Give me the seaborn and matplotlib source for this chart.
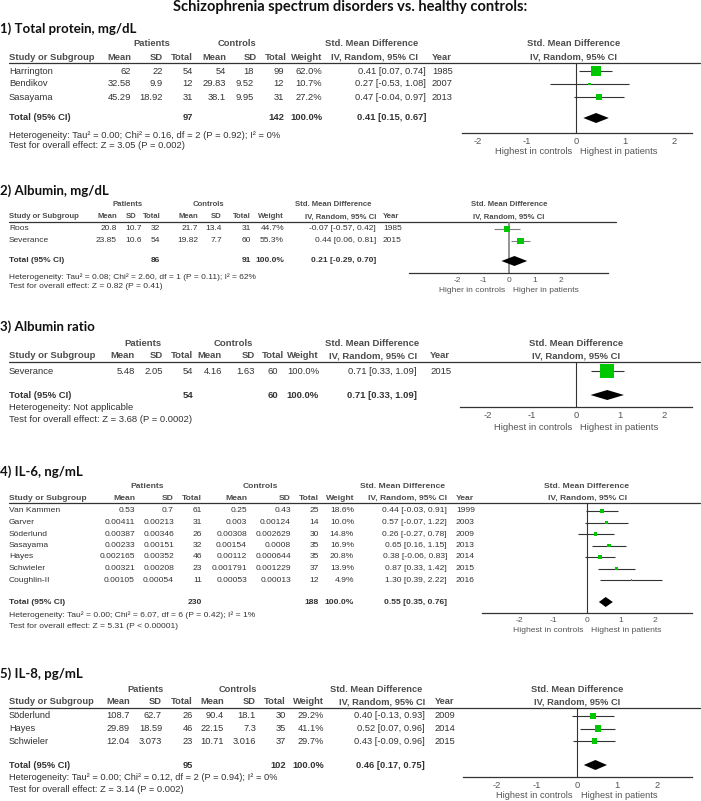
import numpy as np
import pandas as pd
import matplotlib
matplotlib.use("Agg")
import matplotlib.pyplot as plt
import seaborn as sns

# ---------------- data ----------------
TITLE = "Schizophrenia spectrum disorders vs. healthy controls:"
TICKS = [-2, -1, 0, 1, 2]

s1_title = "1) Total protein, mg/dL"
s1_study = ["Harrington", "Bendikov", "Sasayama"]
s1_p_mean = ["62", "32.58", "45.29"]
s1_p_sd = ["22", "9.9", "18.92"]
s1_p_n = [54, 12, 31]
s1_c_mean = ["54", "29.83", "38.1"]
s1_c_sd = ["18", "9.52", "9.95"]
s1_c_n = [99, 12, 31]
s1_weight = [62.0, 10.7, 27.2]
s1_smd = [0.41, 0.27, 0.47]
s1_lo = [0.07, -0.53, -0.04]
s1_hi = [0.74, 1.08, 0.97]
s1_year = [1985, 2007, 2013]
s1_total = [97, 142, 0.41, 0.15, 0.67]
s1_het = "Heterogeneity: Tau² = 0.00; Chi² = 0.16, df = 2 (P = 0.92); I² = 0%"
s1_test = "Test for overall effect: Z = 3.05 (P = 0.002)"
s1_dir = ["Highest in controls", "Highest in patients"]

s2_title = "2) Albumin, mg/dL"
s2_study = ["Roos", "Severance"]
s2_p_mean = ["20.8", "23.85"]
s2_p_sd = ["10.7", "10.6"]
s2_p_n = [32, 54]
s2_c_mean = ["21.7", "19.82"]
s2_c_sd = ["13.4", "7.7"]
s2_c_n = [31, 60]
s2_weight = [44.7, 55.3]
s2_smd = [-0.07, 0.44]
s2_lo = [-0.57, 0.06]
s2_hi = [0.42, 0.81]
s2_year = [1985, 2015]
s2_total = [86, 91, 0.21, -0.29, 0.70]
s2_het = "Heterogeneity: Tau² = 0.08; Chi² = 2.60, df = 1 (P = 0.11); I² = 62%"
s2_test = "Test for overall effect: Z = 0.82 (P = 0.41)"
s2_dir = ["Higher in controls", "Higher in patients"]

s3_title = "3) Albumin ratio"
s3_study = ["Severance"]
s3_p_mean = ["5.48"]
s3_p_sd = ["2.05"]
s3_p_n = [54]
s3_c_mean = ["4.16"]
s3_c_sd = ["1.63"]
s3_c_n = [60]
s3_weight = [100.0]
s3_smd = [0.71]
s3_lo = [0.33]
s3_hi = [1.09]
s3_year = [2015]
s3_total = [54, 60, 0.71, 0.33, 1.09]
s3_het = "Heterogeneity: Not applicable"
s3_test = "Test for overall effect: Z = 3.68 (P = 0.0002)"
s3_dir = ["Highest in controls", "Highest in patients"]

s4_title = "4) IL-6, ng/mL"
s4_study = ["Van Kammen", "Garver", "Söderlund", "Sasayama", "Hayes", "Schwieler", "Coughlin-II"]
s4_p_mean = ["0.53", "0.00411", "0.00387", "0.00233", "0.002165", "0.00321", "0.00105"]
s4_p_sd = ["0.7", "0.00213", "0.00346", "0.00151", "0.00352", "0.00208", "0.00054"]
s4_p_n = [61, 31, 26, 32, 46, 23, 11]
s4_c_mean = ["0.25", "0.003", "0.00308", "0.00154", "0.00112", "0.001791", "0.00053"]
s4_c_sd = ["0.43", "0.00124", "0.002629", "0.0008", "0.000644", "0.001229", "0.00013"]
s4_c_n = [25, 14, 30, 35, 35, 37, 12]
s4_weight = [18.6, 10.0, 14.8, 16.9, 20.8, 13.9, 4.9]
s4_smd = [0.44, 0.57, 0.26, 0.65, 0.38, 0.87, 1.30]
s4_lo = [-0.03, -0.07, -0.27, 0.16, -0.06, 0.33, 0.39]
s4_hi = [0.91, 1.22, 0.78, 1.15, 0.83, 1.42, 2.22]
s4_year = [1999, 2003, 2009, 2013, 2014, 2015, 2016]
s4_total = [230, 188, 0.55, 0.35, 0.76]
s4_het = "Heterogeneity: Tau² = 0.00; Chi² = 6.07, df = 6 (P = 0.42); I² = 1%"
s4_test = "Test for overall effect: Z = 5.31 (P < 0.00001)"
s4_dir = ["Highest in controls", "Highest in patients"]

s5_title = "5) IL-8, pg/mL"
s5_study = ["Söderlund", "Hayes", "Schwieler"]
s5_p_mean = ["108.7", "29.89", "12.04"]
s5_p_sd = ["62.7", "18.59", "3.073"]
s5_p_n = [26, 46, 23]
s5_c_mean = ["90.4", "22.15", "10.71"]
s5_c_sd = ["18.1", "7.3", "3.016"]
s5_c_n = [30, 35, 37]
s5_weight = [29.2, 41.1, 29.7]
s5_smd = [0.40, 0.52, 0.43]
s5_lo = [-0.13, 0.07, -0.09]
s5_hi = [0.93, 0.96, 0.96]
s5_year = [2009, 2014, 2015]
s5_total = [95, 102, 0.46, 0.17, 0.75]
s5_het = "Heterogeneity: Tau² = 0.00; Chi² = 0.12, df = 2 (P = 0.94); I² = 0%"
s5_test = "Test for overall effect: Z = 3.14 (P = 0.002)"
s5_dir = ["Highest in controls", "Highest in patients"]

# ---------------- layout (pixels) ----------------
W, H = 701, 801
sns.set_style("white")
plt.rcParams["font.family"] = ["Liberation Sans", "DejaVu Sans"]

TXT = "#333333"
HDR = "#4d4d4d"
GREEN = "#00c800"

layouts = [
    dict(title_y=29, group_y=44, head_y=57, line_y=63, line_r=700, row0=71, dy=13, total_y=118,
         het_y=135, test_y=146, fs=6.75, hfs=6.75,
         cols=dict(mean=131, sd=163, n=193, cmean=226, csd=254, cn=284, w=322, ci=426, year=432),
         hcols=dict(csd=257, cn=287, ci=418),
         pc=152, cc=237, smdc=372,
         L=462, R=692, zero=576, unit=49, axis_y=133, dir_y=152, hc=574, k=0.45, lc="#333333"),
    dict(title_y=191, group_y=205, head_y=217, line_y=222, line_r=616, row0=229, dy=12, total_y=261,
         het_y=277, test_y=287, fs=6.0, hfs=5.6,
         cols=dict(mean=117, sd=142, n=160, cmean=198, csd=222, cn=251, w=284, ci=376, year=383),
         hcols=dict(sd=137, n=161),
         pc=128, cc=208, smdc=333,
         L=409, R=608, zero=509, unit=26, axis_y=273, dir_y=291, hc=509, k=0.34, lc="#808080"),
    dict(title_y=327, group_y=343, head_y=356, line_y=362, line_r=700, row0=371, dy=12, total_y=395,
         het_y=408, test_y=420, fs=6.8, hfs=6.8,
         cols=dict(mean=135, sd=163, n=193, cmean=222, csd=255, cn=278, w=319, ci=417, year=430),
         hcols=dict(cn=284),
         pc=143, cc=233, smdc=372,
         L=460, R=692, zero=576, unit=44, axis_y=407, dir_y=427, hc=576, k=0.44, lc="#333333"),
    dict(title_y=472, group_y=486, head_y=498, line_y=503, line_r=700, row0=511, dy=11.5, total_y=602,
         het_y=615, test_y=626, fs=6.1, hfs=6.1,
         cols=dict(mean=135, sd=174, n=202, cmean=247, csd=291, cn=319, w=354, ci=447, year=456),
         hcols=dict(),
         pc=147, cc=260, smdc=402,
         L=482, R=692, zero=587, unit=34, axis_y=613, dir_y=631, hc=587, k=0.41, lc="#333333"),
    dict(title_y=674, group_y=690, head_y=702, line_y=708, line_r=700, row0=716, dy=12.5, total_y=765,
         het_y=778, test_y=790, fs=6.7, hfs=6.7,
         cols=dict(mean=130, sd=162, n=193, cmean=224, csd=256, cn=286, w=324, ci=425, year=435),
         hcols=dict(),
         pc=145, cc=238, smdc=376,
         L=463, R=692, zero=577, unit=40, axis_y=777, dir_y=795, hc=577, k=0.40, lc="#333333"),
]

sections = [
    (s1_title, s1_study, s1_p_mean, s1_p_sd, s1_p_n, s1_c_mean, s1_c_sd, s1_c_n, s1_weight, s1_smd, s1_lo, s1_hi, s1_year, s1_total, s1_het, s1_test, s1_dir),
    (s2_title, s2_study, s2_p_mean, s2_p_sd, s2_p_n, s2_c_mean, s2_c_sd, s2_c_n, s2_weight, s2_smd, s2_lo, s2_hi, s2_year, s2_total, s2_het, s2_test, s2_dir),
    (s3_title, s3_study, s3_p_mean, s3_p_sd, s3_p_n, s3_c_mean, s3_c_sd, s3_c_n, s3_weight, s3_smd, s3_lo, s3_hi, s3_year, s3_total, s3_het, s3_test, s3_dir),
    (s4_title, s4_study, s4_p_mean, s4_p_sd, s4_p_n, s4_c_mean, s4_c_sd, s4_c_n, s4_weight, s4_smd, s4_lo, s4_hi, s4_year, s4_total, s4_het, s4_test, s4_dir),
    (s5_title, s5_study, s5_p_mean, s5_p_sd, s5_p_n, s5_c_mean, s5_c_sd, s5_c_n, s5_weight, s5_smd, s5_lo, s5_hi, s5_year, s5_total, s5_het, s5_test, s5_dir),
]

fig = plt.figure(figsize=(W / 100, H / 100), dpi=100)
fig.patch.set_facecolor("white")
ax0 = fig.add_axes([0, 0, 1, 1])
ax0.set_xlim(0, W)
ax0.set_ylim(H, 0)
ax0.axis("off")


def T(x, y, s, ha="left", bold=False, fs=6.8, color=TXT, family=None):
    kw = {}
    if family:
        kw["family"] = family
    ax0.text(x, y, s, ha=ha, va="center", fontsize=fs,
             fontweight="bold" if bold else "normal", color=color, **kw)


T(350, 7, TITLE, ha="center", bold=True, fs=10.5, color="#111111", family="Lato")


def ci_str(e, l, h):
    return f"{e:.2f} [{l:.2f}, {h:.2f}]"


for sec, lay in zip(sections, layouts):
    (title, study, pm, psd, pn, cm, csd, cn, wt, smd, lo, hi, year, total, het, test, dirs) = sec
    fs = lay["fs"]
    hfs = lay["hfs"]
    c = lay["cols"]
    hc = dict(c)
    hc.update(lay["hcols"])
    T(0, lay["title_y"], title, bold=True, fs=9.5, color="#111111", family="Lato")
    # group headers
    T(lay["pc"], lay["group_y"], "Patients", ha="center", bold=True, fs=hfs, color=HDR)
    T(lay["cc"], lay["group_y"], "Controls", ha="center", bold=True, fs=hfs, color=HDR)
    T(lay["smdc"], lay["group_y"], "Std. Mean Difference", ha="center", bold=True, fs=hfs, color=HDR)
    T(lay["hc"], lay["group_y"], "Std. Mean Difference", ha="center", bold=True, fs=hfs, color=HDR)
    hy = lay["head_y"]
    T(9, hy, "Study or Subgroup", bold=True, fs=hfs, color=HDR)
    for key, lab in [("mean", "Mean"), ("sd", "SD"), ("n", "Total"), ("cmean", "Mean"),
                     ("csd", "SD"), ("cn", "Total"), ("w", "Weight")]:
        T(hc[key], hy, lab, ha="right", bold=True, fs=hfs, color=HDR)
    T(hc["ci"], hy, "IV, Random, 95% CI", ha="right", bold=True, fs=hfs, color=HDR)
    T(c["year"], hy, "Year", bold=True, fs=hfs, color=HDR)
    T(lay["hc"], hy, "IV, Random, 95% CI", ha="center", bold=True, fs=hfs, color=HDR)
    ax0.plot([9, lay["line_r"]], [lay["line_y"], lay["line_y"]], color="#333333", lw=0.9)

    for i in range(len(study)):
        y = lay["row0"] + i * lay["dy"]
        T(9, y, study[i], fs=fs)
        T(c["mean"], y, pm[i], ha="right", fs=fs)
        T(c["sd"], y, psd[i], ha="right", fs=fs)
        T(c["n"], y, str(pn[i]), ha="right", fs=fs)
        T(c["cmean"], y, cm[i], ha="right", fs=fs)
        T(c["csd"], y, csd[i], ha="right", fs=fs)
        T(c["cn"], y, str(cn[i]), ha="right", fs=fs)
        T(c["w"], y, f"{wt[i]:.1f}%", ha="right", fs=fs)
        T(c["ci"], y, ci_str(smd[i], lo[i], hi[i]), ha="right", fs=fs)
        T(c["year"], y, str(year[i]), fs=fs)

    ty = lay["total_y"]
    T(9, ty, "Total (95% CI)", bold=True, fs=fs)
    T(c["n"], ty, str(total[0]), ha="right", bold=True, fs=fs)
    T(c["cn"], ty, str(total[1]), ha="right", bold=True, fs=fs)
    T(c["w"], ty, "100.0%", ha="right", bold=True, fs=fs)
    T(c["ci"], ty, ci_str(total[2], total[3], total[4]), ha="right", bold=True, fs=fs)
    T(9, lay["het_y"], het, fs=fs)
    T(9, lay["test_y"], test, fs=fs)
    T(lay["zero"] - 4, lay["dir_y"], dirs[0], ha="right", fs=fs, color="#555555")
    T(lay["zero"] + 4, lay["dir_y"], dirs[1], ha="left", fs=fs, color="#555555")

    # forest axes
    L, R, Tp, B = lay["L"], lay["R"], lay["line_y"], lay["axis_y"]
    ax = fig.add_axes([L / W, 1 - B / H, (R - L) / W, (B - Tp) / H])
    ax.patch.set_alpha(0)
    row0, dy = lay["row0"], lay["dy"]
    rows = np.arange(len(study))
    df = pd.DataFrame({"smd": smd, "lo": lo, "hi": hi, "row": rows, "w": wt})
    side_pt = lay["k"] * np.power(df["w"].to_numpy(), 0.75) * 0.72
    ax.hlines(df["row"], df["lo"], df["hi"], color=lay["lc"], lw=0.8, zorder=2)
    sns.scatterplot(data=df, x="smd", y="row", marker="s", color=GREEN,
                    s=side_pt ** 2, linewidth=0, legend=False, ax=ax, zorder=3)
    ax.axvline(0, color=lay["lc"], lw=1.2 if lay["lc"] == "#808080" else 0.8, zorder=1)
    trow = (lay["total_y"] - row0) / dy
    hh = 5.0 / dy
    ax.fill([total[3], total[2], total[4], total[2]],
            [trow, trow - hh, trow, trow + hh], color="black", lw=0, zorder=4)
    ax.set_xlim((L - lay["zero"]) / lay["unit"], (R - lay["zero"]) / lay["unit"])
    ax.set_ylim((B - row0) / dy, (Tp - row0) / dy)
    for s in ["top", "left", "right"]:
        ax.spines[s].set_visible(False)
    ax.spines["bottom"].set_color("#333333")
    ax.spines["bottom"].set_linewidth(0.9)
    ax.set_yticks([])
    ax.set_xticks(TICKS)
    ax.set_xticklabels([str(t) for t in TICKS])
    ax.tick_params(axis="x", direction="inout", length=6, width=0.8, pad=0,
                   labelsize=fs, colors="#333333", labelcolor="#555555")
    ax.set_xlabel("")
    ax.set_ylabel("")
    ax.grid(False)

fig.savefig("out.png", dpi=100, facecolor="white")
